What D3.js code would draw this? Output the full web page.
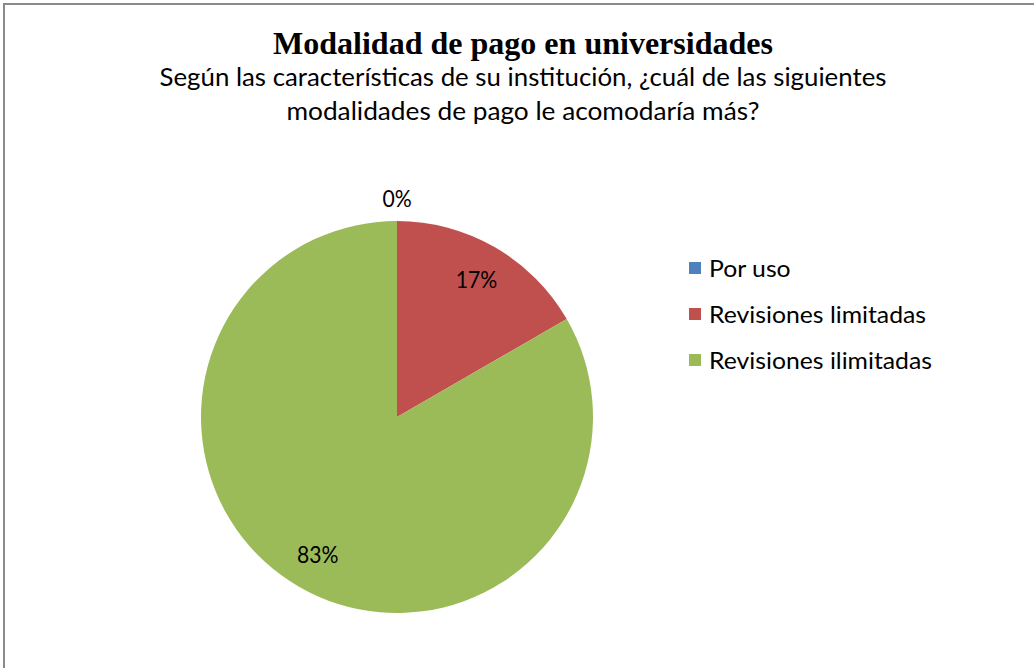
<!DOCTYPE html>
<html><head><meta charset="utf-8">
<script src="https://cdn.jsdelivr.net/npm/d3@7"></script>
<style>html,body{margin:0;padding:0;background:#fff;}svg{display:block;}</style>
</head><body>
<svg id="c" width="1034" height="668"></svg>
<script>
const categories = ["Por uso", "Revisiones limitadas", "Revisiones ilimitadas"];
const values = [0, 1, 5];
const colors = ["#4F81BD", "#C0504D", "#9BBB59"];
const title = "Modalidad de pago en universidades";
const subtitle = ["Según las características de su institución, ¿cuál de las siguientes", "modalidades de pago le acomodaría más?"];

const svg = d3.select("#c");
const sans = "Lato, 'Open Sans', sans-serif";

// frame
svg.append("rect").attr("x", 4).attr("y", 4).attr("width", 1100).attr("height", 800)
  .attr("fill", "#fff").attr("stroke", "#8a8a8a").attr("stroke-width", 2);

// squeeze a text horizontally so that it spans w pixels
function squeeze(sel, w) {
  sel.attr("textLength", w).attr("lengthAdjust", "spacingAndGlyphs");
}
function condense(sel, k) {
  sel.each(function () {
    const l = this.getComputedTextLength();
    d3.select(this).attr("textLength", l * k).attr("lengthAdjust", "spacingAndGlyphs");
  });
}

const t = svg.append("text").attr("x", 523).attr("y", 54).attr("text-anchor", "middle")
  .attr("font-family", "'Liberation Serif', 'Times New Roman', serif").attr("font-weight", "bold")
  .attr("font-size", 31).text(title);
squeeze(t, 500);

const s1 = svg.append("text").attr("x", 523).attr("y", 86).attr("text-anchor", "middle")
  .attr("font-family", sans).attr("font-size", 24.5).text(subtitle[0]);
squeeze(s1, 727);
const s2 = svg.append("text").attr("x", 523).attr("y", 120).attr("text-anchor", "middle")
  .attr("font-family", sans).attr("font-size", 24.5).text(subtitle[1]);
squeeze(s2, 473);

const cx = 397, cy = 417, r = 196;
const pie = d3.pie().sort(null).value(d => d)(values);
const arc = d3.arc().innerRadius(0).outerRadius(r);
const g = svg.append("g").attr("transform", `translate(${cx},${cy})`);
g.selectAll("path").data(pie).join("path").attr("d", arc).attr("fill", (d, i) => colors[i]);

const total = d3.sum(values);
const inArc = d3.arc().innerRadius(r * 0.81).outerRadius(r * 0.81);
const outArc = d3.arc().innerRadius(r + 22).outerRadius(r + 22);
const labs = g.selectAll("text.lab").data(pie).join("text").attr("class", "lab")
  .attr("transform", d => `translate(${(d.value === 0 ? outArc : inArc).centroid(d)})`)
  .attr("text-anchor", "middle").attr("dy", "0.36em")
  .attr("font-family", sans).attr("font-size", 23.5).attr("fill", "#000")
  .text(d => Math.round(d.value / total * 100) + "%");
condense(labs, 0.9);

const leg = svg.append("g").attr("transform", "translate(689,268)");
const items = leg.selectAll("g").data(categories).join("g")
  .attr("transform", (d, i) => `translate(0,${i * 46})`);
items.append("rect").attr("x", 0).attr("y", -6).attr("width", 12).attr("height", 12)
  .attr("fill", (d, i) => colors[i]);
const lt = items.append("text").attr("x", 20).attr("dy", "0.36em")
  .attr("font-family", sans).attr("font-size", 24).text(d => d);
const k = 223 / lt.nodes()[2].getComputedTextLength();
condense(lt, k);
</script>
</body></html>
